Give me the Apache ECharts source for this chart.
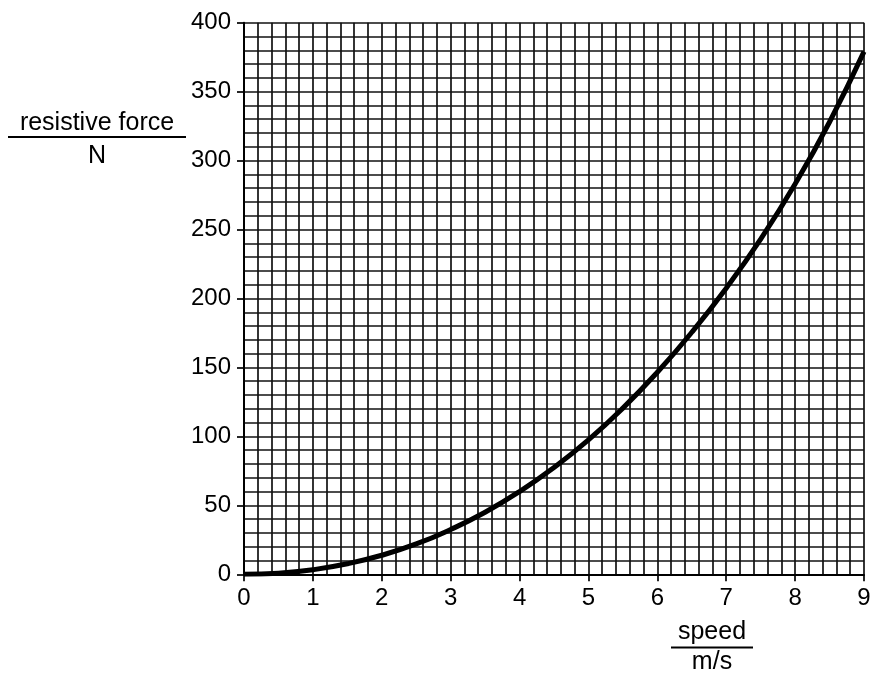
<!DOCTYPE html>
<html>
<head>
<meta charset="utf-8">
<script src="https://cdn.jsdelivr.net/npm/echarts@6/dist/echarts.min.js"></script>
<style>
html,body{margin:0;padding:0;background:#fff;}
#chart{width:874px;height:673px;}
</style>
</head>
<body>
<div id="chart"></div>
<script>
// speed in m/s
var speeds = [0, 0.5, 1, 1.5, 2, 2.5, 3, 3.5, 4, 4.5, 5, 5.5, 6, 6.5, 7, 7.5, 8, 8.5, 9];
// resistive force in N
var forces = [0, 0.8, 3.3, 7.6, 13.8, 22, 32.5, 45, 60, 77.5, 97.5, 120.5, 146.5, 175.5, 207.5, 243, 283, 328, 379];

var xTicks = ['0','1','2','3','4','5','6','7','8','9'];
var yTicks = ['0','50','100','150','200','250','300','350','400'];

var yTitle = 'resistive force';
var yUnit = 'N';
var xTitle = 'speed';
var xUnit = 'm/s';

var FONT = '"Liberation Sans", Arial, sans-serif';
var gridLine = { color: '#111', width: 1.7 };

var chart = echarts.init(document.getElementById('chart'), null, { renderer: 'canvas' });

var pts = speeds.map(function (s, i) { return [s, forces[i]]; });

chart.setOption({
  animation: false,
  backgroundColor: '#fff',
  grid: { left: 244, right: 10, top: 22.7, bottom: 98.7, containLabel: false },
  xAxis: {
    type: 'value', min: 0, max: 9, interval: 1,
    axisLine: { show: true, onZero: false, lineStyle: { color: '#000', width: 2 } },
    axisTick: { show: true, length: 7, lineStyle: { color: '#000', width: 1.7 } },
    axisLabel: {
      margin: 12, color: '#000', fontSize: 24, fontFamily: FONT,
      formatter: function (v) { return xTicks[Math.round(v)]; }
    },
    splitLine: { show: true, lineStyle: gridLine },
    minorTick: { show: false, splitNumber: 5 },
    minorSplitLine: { show: true, lineStyle: gridLine }
  },
  yAxis: {
    type: 'value', min: 0, max: 400, interval: 50,
    axisLine: { show: true, onZero: false, lineStyle: { color: '#000', width: 2 } },
    axisTick: { show: true, length: 7, lineStyle: { color: '#000', width: 1.7 } },
    axisLabel: {
      margin: 13, color: '#000', fontSize: 24, fontFamily: FONT,
      formatter: function (v) { return yTicks[Math.round(v / 50)]; }
    },
    splitLine: { show: true, lineStyle: gridLine },
    minorTick: { show: false, splitNumber: 5 },
    minorSplitLine: { show: true, lineStyle: gridLine }
  },
  series: [{
    type: 'line',
    data: pts,
    smooth: true,
    showSymbol: false,
    lineStyle: { color: '#000', width: 5 },
    z: 5
  }],
  graphic: [
    { type: 'text', x: 97, y: 123, style: { text: yTitle, font: '25px ' + FONT, fill: '#000', align: 'center', verticalAlign: 'middle' } },
    { type: 'line', shape: { x1: 8, y1: 137, x2: 186, y2: 137 }, style: { stroke: '#000', lineWidth: 2 } },
    { type: 'text', x: 97, y: 156, style: { text: yUnit, font: '25px ' + FONT, fill: '#000', align: 'center', verticalAlign: 'middle' } },
    { type: 'text', x: 712, y: 632, style: { text: xTitle, font: '25px ' + FONT, fill: '#000', align: 'center', verticalAlign: 'middle' } },
    { type: 'line', shape: { x1: 671, y1: 647.5, x2: 753, y2: 647.5 }, style: { stroke: '#000', lineWidth: 2 } },
    { type: 'text', x: 712, y: 662, style: { text: xUnit, font: '25px ' + FONT, fill: '#000', align: 'center', verticalAlign: 'middle' } }
  ]
});
</script>
</body>
</html>
